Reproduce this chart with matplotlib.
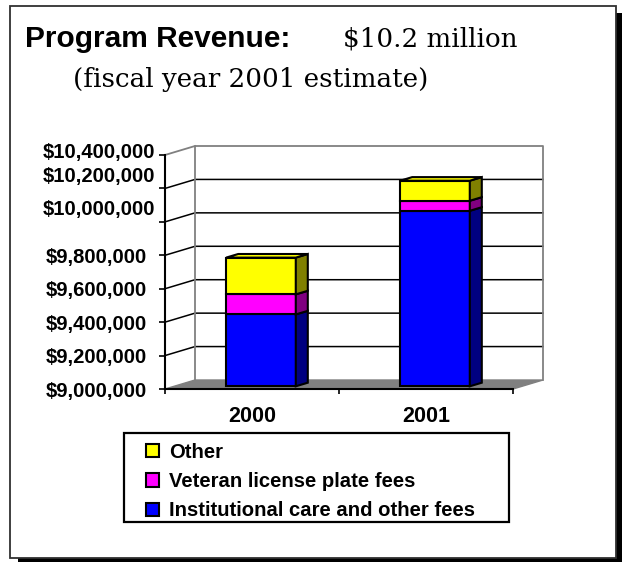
import matplotlib
matplotlib.use('Agg')
import matplotlib.pyplot as plt
from matplotlib.patches import Polygon, Rectangle, Patch
import matplotlib.transforms as mtransforms

# ---------------- data ----------------
years = ['2000', '2001']
institutional = [9_430_000, 10_050_000]
plate_fees = [120_000, 60_000]
other = [220_000, 120_000]
series_values = [institutional, plate_fees, other]
series_names = ['Institutional care and other fees', 'Veteran license plate fees', 'Other']
face_colors = ['#0000FF', '#FF00FF', '#FFFF00']
side_colors = ['#000080', '#800080', '#808000']
y_ticks = [9_000_000, 9_200_000, 9_400_000, 9_600_000, 9_800_000,
           10_000_000, 10_200_000, 10_400_000]
y_tick_labels = ['$9,000,000', '$9,200,000', '$9,400,000', '$9,600,000',
                 '$9,800,000', '$10,000,000', '$10,200,000', '$10,400,000']
title_bold = 'Program Revenue:'
title_value = '$10.2 million'
subtitle = '(fiscal year 2001 estimate)'

# ---------------- layout ----------------
W, H = 622, 562
DPI = 100
plt.rcParams['font.family'] = ['Liberation Sans', 'DejaVu Sans']
fig = plt.figure(figsize=(W / DPI, H / DPI), dpi=DPI)
fig.patch.set_facecolor('white')


def fx(x):
    return x / W


def fy(y):
    return 1 - y / H


# outer frame with drop shadow
fig.add_artist(Rectangle((fx(18), fy(570)), fx(630) - fx(18), fy(13) - fy(570),
                         transform=fig.transFigure, facecolor='black',
                         edgecolor='none', zorder=-3))
fig.add_artist(Rectangle((fx(10), fy(558)), fx(616) - fx(10), fy(6) - fy(558),
                         transform=fig.transFigure, facecolor='white',
                         edgecolor='#303030', lw=1.3, zorder=-2))

# titles
fig.text(fx(25), fy(47), title_bold, fontsize=21.5, fontweight='bold',
         family=['Liberation Sans'], va='baseline', ha='left')
fig.text(fx(343), fy(47), title_value, fontsize=18.8, family=['DejaVu Serif'],
         va='baseline', ha='left')
fig.text(fx(73), fy(87), subtitle, fontsize=18.8, family=['DejaVu Serif'],
         va='baseline', ha='left')

# main axes = front plane of the 3D box
ax_l, ax_r, ax_t, ax_b = 165, 513, 155, 389
ax = fig.add_axes([fx(ax_l), fy(ax_b), fx(ax_r) - fx(ax_l), fy(ax_t) - fy(ax_b)])
ax.patch.set_visible(False)
ymin, ymax = y_ticks[0], y_ticks[-1]
ax.set_xlim(0, len(years))
ax.set_ylim(ymin, ymax)

# depth in data units (30 px right, 9 px up)
px_x = (ax_r - ax_l) / len(years)
px_y = (ax_b - ax_t) / (ymax - ymin)
DX = 30 / px_x
DY = 9 / px_y
GRAY = '#808080'

# back wall
ax.add_patch(Rectangle((DX, ymin + DY), len(years), ymax - ymin, facecolor='white',
                       edgecolor='none', zorder=1, clip_on=False))
ax.plot([DX, DX, len(years) + DX, len(years) + DX],
        [ymin + DY, ymax + DY, ymax + DY, ymin + DY], color=GRAY, lw=1.3,
        clip_on=False, zorder=3)
# gridlines on back wall + side wall
for v in y_ticks[1:-1]:
    ax.plot([0, DX, len(years) + DX], [v, v + DY, v + DY], color='black', lw=1.1,
            clip_on=False, zorder=2)
ax.plot([0, DX], [ymax, ymax + DY], color=GRAY, lw=1.3, clip_on=False, zorder=2)
# floor
ax.add_patch(Polygon([(0, ymin), (len(years), ymin), (len(years) + DX, ymin + DY),
                      (DX, ymin + DY)], closed=True, facecolor=GRAY, edgecolor=GRAY,
                     lw=1, zorder=2, clip_on=False))

# bars
BW = 0.40
f0, f1 = 0.3, 0.7
bdx, bdy = (f1 - f0) * DX, (f1 - f0) * DY
for i in range(len(years)):
    xc = i + 0.5 + f0 * DX
    x1 = xc + BW / 2
    x0 = xc - BW / 2
    bottom = ymin
    for s, vals in enumerate(series_values):
        top = (vals[i] if s == 0 else bottom + vals[i])
        ax.bar(xc, top - bottom, width=BW, bottom=bottom + f0 * DY,
               color=face_colors[s], edgecolor='black', lw=1.5, zorder=5)
        b, t = bottom + f0 * DY, top + f0 * DY
        ax.add_patch(Polygon([(x1, b), (x1 + bdx, b + bdy), (x1 + bdx, t + bdy), (x1, t)],
                             closed=True, facecolor=side_colors[s], edgecolor='black',
                             lw=1.5, zorder=5, joinstyle='miter'))
        bottom = top
    t = bottom + f0 * DY
    ax.add_patch(Polygon([(x0, t), (x1, t), (x1 + bdx, t + bdy), (x0 + bdx, t + bdy)],
                         closed=True, facecolor=face_colors[-1], edgecolor='black',
                         lw=1.5, zorder=5, joinstyle='miter'))

# spines & ticks
for side in ['top', 'right']:
    ax.spines[side].set_visible(False)
for side in ['left', 'bottom']:
    ax.spines[side].set_color('black')
    ax.spines[side].set_linewidth(1.5)
ax.set_yticks(y_ticks, y_tick_labels)
ax.set_xticks(range(len(years) + 1))
ax.set_xticklabels([])
ax.set_xticks([i + 0.5 for i in range(len(years))], years, minor=True)
ax.tick_params(axis='y', direction='out', length=4.5, width=1.2, pad=8.6,
               labelsize=14.6)
ax.tick_params(axis='x', which='major', direction='out', length=3.8, width=1.2)
ax.tick_params(axis='x', which='minor', length=0, pad=12, labelsize=15.5)
for lab in ax.get_yticklabels() + ax.get_xticklabels(minor=True):
    lab.set_fontweight('bold')

# shift the wide upper labels like the original
shifts = {5: (8, 14), 6: (8, 14), 7: (8, 4)}
ticks = ax.yaxis.get_major_ticks()
for idx, (dxp, dyp) in shifts.items():
    lab = ticks[idx].label1
    lab.set_transform(lab.get_transform() +
                      mtransforms.ScaledTranslation(dxp / DPI, dyp / DPI, fig.dpi_scale_trans))

# legend
fig.add_artist(Rectangle((fx(124), fy(522)), fx(509) - fx(124), fy(433) - fy(522),
                         transform=fig.transFigure, facecolor='white',
                         edgecolor='black', lw=1.6, zorder=1))
handles = [Patch(facecolor=face_colors[s], edgecolor='black', lw=1.5) for s in [2, 1, 0]]
labels = [series_names[s] for s in [2, 1, 0]]
leg = fig.legend(handles, labels, loc='upper left', bbox_to_anchor=(fx(146), fy(443)),
                 frameon=False, handlelength=0.62, handleheight=0.62,
                 handletextpad=0.5, labelspacing=0.5, borderpad=0,
                 borderaxespad=0, prop={'family': 'Liberation Sans', 'weight': 'bold',
                                        'size': 14.6})
leg.set_zorder(2)

fig.savefig('out.png', dpi=DPI)
